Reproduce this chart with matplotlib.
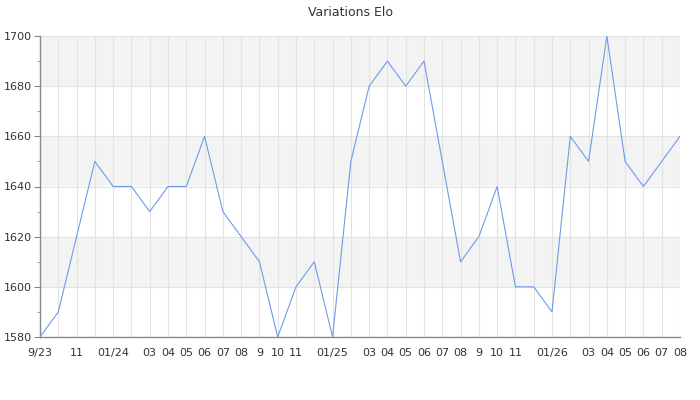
import matplotlib
matplotlib.use("Agg")
import matplotlib.pyplot as plt
from matplotlib.ticker import MultipleLocator

# Monthly Elo, Sep 2023 .. Aug 2026
months = ["9/23", "", "11", "", "01/24", "", "03", "04", "05", "06", "07", "08",
          "9", "10", "11", "", "01/25", "", "03", "04", "05", "06", "07", "08",
          "9", "10", "11", "", "01/26", "", "03", "04", "05", "06", "07", "08"]
elo = [1580, 1590, 1620, 1650, 1640, 1640, 1630, 1640, 1640, 1660, 1630, 1620,
       1610, 1580, 1600, 1610, 1580, 1650, 1680, 1690, 1680, 1690, 1650, 1610,
       1620, 1640, 1600, 1600, 1590, 1660, 1650, 1700, 1650, 1640, 1650, 1660]
y_ticks = [1580, 1600, 1620, 1640, 1660, 1680, 1700]

fig = plt.figure(figsize=(7, 4), dpi=100)
ax = fig.add_axes([40 / 700, 63 / 400, 640 / 700, 301 / 400])

x = list(range(len(elo)))

# alternating bands
for lo in [1600, 1640, 1680]:
    ax.axhspan(lo, lo + 20, color="#f3f3f3", zorder=0, lw=0)

for xi in x:
    ax.axvline(xi, color="#e2e2e2", lw=0.8, zorder=1)
for yv in y_ticks:
    ax.axhline(yv, color="#e2e2e2", lw=0.8, zorder=1)

ax.plot(x, elo, color="#6f9be8", lw=0.8, zorder=3)

ax.set_xlim(0, len(elo) - 1)
ax.set_ylim(1580, 1700)
ax.set_xticks(x)
ax.set_xticklabels(months, fontsize=8, color="#333333")
ax.set_yticks(y_ticks)
ax.set_yticklabels([str(v) for v in y_ticks], fontsize=8, color="#333333")
ax.yaxis.set_minor_locator(MultipleLocator(10))

ax.tick_params(axis="x", length=0, pad=8)
ax.tick_params(axis="y", which="major", length=4, color="#888888", pad=2)
ax.tick_params(axis="y", which="minor", length=2, color="#888888")

for side in ["top", "right"]:
    ax.spines[side].set_visible(False)
for side in ["left", "bottom"]:
    ax.spines[side].set_color("#888888")
    ax.spines[side].set_linewidth(1)

fig.suptitle("Variations Elo", y=0.985, fontsize=9, color="#333333")

plt.savefig("out.png", dpi=100)
